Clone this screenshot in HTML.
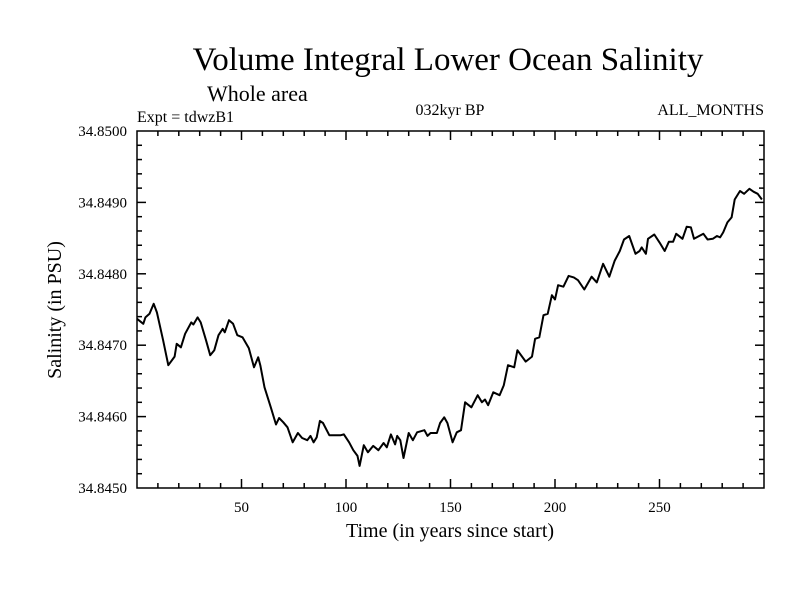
<!DOCTYPE html>
<html><head><meta charset="utf-8"><style>
body{margin:0;background:#fff;}
svg text{font-family:"Liberation Serif",serif;fill:#000;}
</style></head><body>
<svg width="800" height="600" xmlns="http://www.w3.org/2000/svg">
<rect width="800" height="600" fill="#fff"/>
<text x="448" y="70" font-size="33" text-anchor="middle">Volume Integral Lower Ocean Salinity</text>
<text x="207" y="101" font-size="22">Whole area</text>
<text x="137" y="122" font-size="16">Expt = tdwzB1</text>
<text x="450" y="115" font-size="16" text-anchor="middle">032kyr BP</text>
<text x="764" y="115" font-size="16" text-anchor="end">ALL_MONTHS</text>
<text x="450" y="537" font-size="20" text-anchor="middle">Time (in years since start)</text>
<text x="0" y="0" font-size="20" text-anchor="middle" transform="translate(61,310) rotate(-90)">Salinity (in PSU)</text>
<g id="axes"></g>
<path id="line" fill="none" stroke="#000" stroke-width="2" stroke-linejoin="round"/>
</svg>
<script>
const years=[0,3,4,6,8,9.5,12.5,15,18,19,21,23,26,27,29,30.5,33,35,37,39,41,42,44,46,48,50.5,53.5,56,58,59,61,64,66.5,68,70,72,74.5,77,79,81.5,83,84.5,86,87.5,89,92,97.5,99,101.5,103.5,105.5,106.5,108.5,110.5,113,115.5,118,119.5,121.5,123.5,124.5,126,127.5,130,132,134,137.5,139,140.5,143.5,145,147,148.5,151,153,155,157,160,163,165,166.5,168,170.5,173.5,175.5,177.5,180.5,182,186,189,190.5,192.5,194.5,196.5,198.5,200,201.5,204,206.5,209,211,214,217.5,220,223,226,228.5,231,233,235.5,238.5,240.5,241.5,243.5,244.5,247.5,250,252.5,254.5,256.5,258,261,263,265,266.5,271,273,275.5,277.5,279,280.5,282.5,284.5,286,288.5,290.5,293,295,297,299];
const salinity=[34.84737,34.84730,34.84739,34.84744,34.84758,34.84746,34.84707,34.84672,34.84684,34.84702,34.84697,34.84716,34.84732,34.84729,34.84739,34.84732,34.84707,34.84686,34.84693,34.84714,34.84723,34.84718,34.84735,34.84730,34.84714,34.84711,34.84696,34.84669,34.84683,34.84672,34.84641,34.84613,34.84589,34.84598,34.84592,34.84585,34.84564,34.84577,34.84570,34.84567,34.84573,34.84564,34.84571,34.84594,34.84591,34.84574,34.84574,34.84575,34.84564,34.84553,34.84545,34.84531,34.84560,34.84550,34.84559,34.84553,34.84563,34.84557,34.84575,34.84561,34.84573,34.84567,34.84542,34.84577,34.84567,34.84578,34.84581,34.84573,34.84577,34.84577,34.84591,34.84599,34.84591,34.84564,34.84578,34.84581,34.84620,34.84613,34.84630,34.84620,34.84624,34.84616,34.84634,34.84630,34.84644,34.84672,34.84669,34.84693,34.84677,34.84684,34.84709,34.84711,34.84742,34.84744,34.84770,34.84764,34.84784,34.84782,34.84797,34.84795,34.84791,34.84778,34.84796,34.84788,34.84814,34.84796,34.84818,34.84832,34.84848,34.84853,34.84828,34.84832,34.84837,34.84828,34.84849,34.84855,34.84844,34.84832,34.84845,34.84845,34.84856,34.84849,34.84866,34.84865,34.84849,34.84856,34.84848,34.84849,34.84853,34.84851,34.84858,34.84872,34.84879,34.84904,34.84916,34.84912,34.84919,34.84915,34.84912,34.84904];
const yTicks=[34.845,34.846,34.847,34.848,34.849,34.850];
const yTickLabels=["34.8450","34.8460","34.8470","34.8480","34.8490","34.8500"];
const xTicks=[50,100,150,200,250];
const X0=137,X1=764,Y0=131,Y1=488,XMIN=0,XMAX=300,YMIN=34.845,YMAX=34.850;
const sx=v=>X0+(v-XMIN)/(XMAX-XMIN)*(X1-X0);
const sy=v=>Y1-(v-YMIN)/(YMAX-YMIN)*(Y1-Y0);
const NS="http://www.w3.org/2000/svg";
const g=document.getElementById('axes');
function ln(x1,y1,x2,y2,name){const l=document.createElementNS(NS,'line');l.setAttribute('x1',x1);l.setAttribute('y1',y1);l.setAttribute('x2',x2);l.setAttribute('y2',y2);l.setAttribute('stroke','#000');l.setAttribute('stroke-width','1.5');


g.appendChild(l);}
function tx(x,y,s,anchor,name){const t=document.createElementNS(NS,'text');t.setAttribute('x',x);t.setAttribute('y',y);t.setAttribute('font-size','15');t.setAttribute('text-anchor',anchor);t.textContent=s;


g.appendChild(t);}
const fr=document.createElementNS(NS,'rect');
fr.setAttribute('x',X0);fr.setAttribute('y',Y0);fr.setAttribute('width',X1-X0);fr.setAttribute('height',Y1-Y0);fr.setAttribute('fill','none');fr.setAttribute('stroke','#000');fr.setAttribute('stroke-width','1.5');


g.appendChild(fr);
for(let v=10;v<XMAX;v+=10){const x=sx(v);const L=(v%50===0)?9:5;ln(x,Y1,x,Y1-L,'x-tick');ln(x,Y0,x,Y0+L,'x-tick-top');}
xTicks.forEach(v=>tx(sx(v),Y1+24,String(v),'middle','x-tick-label'));
for(let i=1;i<25;i++){const v=YMIN+i*0.0002;const y=sy(v);const L=(i%5===0)?9:5;ln(X0,y,X0+L,y,'y-tick');ln(X1,y,X1-L,y,'y-tick-right');}
yTicks.forEach((v,i)=>tx(X0-10,sy(v)+5,yTickLabels[i],'end','y-tick-label'));
document.getElementById('line').setAttribute('d',years.map((v,i)=>(i?'L':'M')+sx(v).toFixed(1)+','+sy(salinity[i]).toFixed(1)).join(''));
</script>
</body></html>
